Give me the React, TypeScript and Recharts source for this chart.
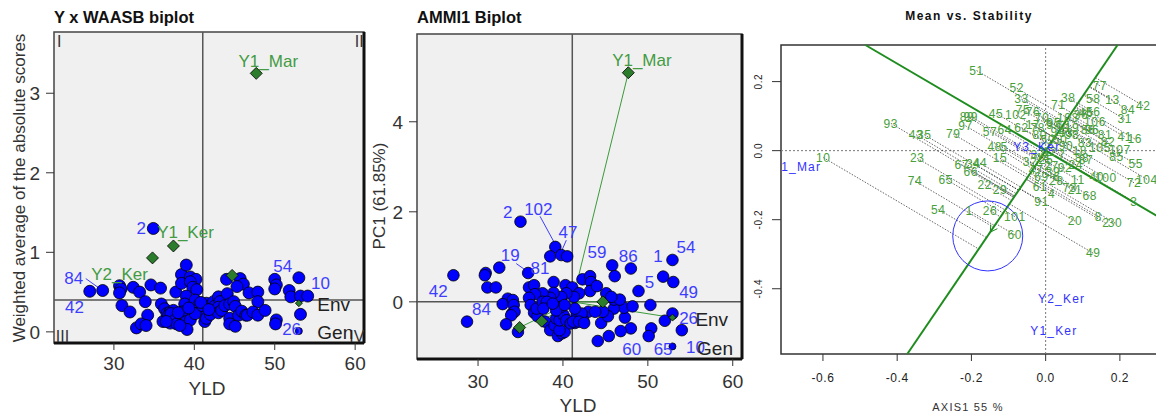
import {
  ScatterChart,
  Scatter,
  XAxis,
  YAxis,
  CartesianGrid,
  ReferenceLine,
  ReferenceArea,
  ReferenceDot,
} from "recharts";

type Pt = [number, number];
type Lbl = [string, number, number];

const FONT = "'Liberation Sans', Arial, sans-serif";
const GEN_TEXT = "#3d3dff";
const ENV_TEXT = "#439b43";
const ENV_FILL = "#2b7d2b";
const STAB_TEXT = "#47a03a";

// ---- Y x WAASB biplot ----
const waasbDomainX: Pt = [22.55, 61.1];
const waasbDomainY: Pt = [-0.14, 3.77];
const waasbMeanYld = 41.05;
const waasbMeanScore = 0.4;
const waasbGen: Pt[] = [
  [34.9, 1.3], [27.0, 0.51], [28.6, 0.52], [30.7, 0.58], [30.9, 0.54], [30.7, 0.49],
  [31.0, 0.33], [32.0, 0.25], [32.4, 0.56], [33.2, 0.5], [33.9, 0.38], [34.2, 0.21],
  [32.8, 0.05], [33.4, 0.1], [34.0, 0.08], [34.6, 0.59], [35.8, 0.55], [35.9, 0.35],
  [36.1, 0.13], [37.7, 0.5], [38.4, 0.72], [39.0, 0.84], [38.4, 0.61], [39.5, 0.69],
  [40.2, 0.66], [39.5, 0.63], [39.8, 0.56], [40.3, 0.53], [39.0, 0.45], [38.8, 0.35],
  [38.5, 0.25], [36.3, 0.29], [36.6, 0.23], [37.0, 0.25], [37.4, 0.27], [36.8, 0.21],
  [37.1, 0.23], [37.0, 0.11], [37.6, 0.15], [37.8, 0.1], [39.0, 0.13], [39.5, 0.15],
  [39.1, 0.03], [40.1, 0.4], [40.5, 0.33], [40.3, 0.27], [40.7, 0.25], [40.1, 0.23],
  [41.3, 0.13], [41.5, 0.17], [41.0, 0.33], [41.5, 0.36], [42.0, 0.33], [42.4, 0.38],
  [42.5, 0.32], [42.0, 0.22], [43.0, 0.44], [43.2, 0.38], [43.0, 0.31], [43.0, 0.24],
  [43.4, 0.27], [44.0, 0.66], [44.1, 0.48], [43.8, 0.33], [44.4, 0.35], [44.9, 0.38],
  [45.1, 0.32], [44.4, 0.17], [44.4, 0.1], [45.1, 0.07], [45.7, 0.67], [46.1, 0.6],
  [45.3, 0.57], [45.5, 0.21], [45.9, 0.26], [46.4, 0.21], [46.8, 0.49], [47.9, 0.5],
  [47.9, 0.38], [46.6, 0.21], [47.3, 0.25], [47.9, 0.21], [48.8, 0.27], [50.0, 0.66],
  [50.2, 0.59], [50.0, 0.54], [50.2, 0.15], [50.1, 0.1], [51.8, 0.52], [52.0, 0.44],
  [53.0, 0.68], [53.2, 0.45], [54.1, 0.45], [53.2, 0.22], [38.0, 0.24], [39.3, 0.3],
  [40.8, 0.37], [41.8, 0.28], [36.5, 0.13], [38.2, 0.08],
];
const waasbGenSmall: Pt[] = [[53.0, 0.01]];
const waasbEnv: Pt[] = [[47.7, 3.25], [37.4, 1.08], [34.8, 0.93], [44.7, 0.71]];
const waasbEnvSmall: Pt[] = [[53.0, 0.36]];
const waasbGenLabels: Lbl[] = [
  ["2", 33.4, 1.3], ["84", 25.0, 0.68], ["42", 25.1, 0.31],
  ["54", 51.0, 0.83], ["10", 55.7, 0.61], ["26", 52.1, 0.03],
];
const waasbEnvLabels: Lbl[] = [["Y1_Mar", 49.2, 3.4], ["Y1_Ker", 38.9, 1.25], ["Y2_Ker", 30.7, 0.73]];
const waasbQuadrants: Lbl[] = [["I", 23.2, 3.65], ["II", 60.5, 3.65], ["III", 23.6, -0.06], ["IV", 60.2, -0.06]];
const waasbLegend: Lbl[] = [["Env", 55.3, 0.35], ["Gen", 55.3, 0.0]];
const waasbLeader: Pt[] = [[26.5, 0.67], [28.3, 0.54]];

// ---- AMMI1 biplot ----
const ammiDomainX: Pt = [22.81, 61.09];
const ammiDomainY: Pt = [-1.27, 5.95];
const ammiCenter: Pt = [41.1, 0];
const ammiGen: Pt[] = [
  [35.0, 1.78], [39.1, 1.22], [38.5, 1.01], [39.8, 1.04], [40.5, 1.01], [35.9, 0.64],
  [27.1, 0.59], [30.9, 0.64], [30.8, 0.59], [32.5, 0.76], [31.1, 0.32], [32.1, 0.32],
  [36.0, 0.32], [36.6, 0.37], [38.9, 0.44], [40.3, 0.37], [41.1, 0.32], [42.3, 0.5],
  [43.2, 0.57], [43.3, 0.44], [43.2, 0.24], [44.0, 0.35], [45.8, 0.81], [46.1, 0.57],
  [48.0, 0.74], [51.8, 0.56], [52.9, 0.93], [53.0, 0.44], [48.9, 0.24], [50.3, -0.07],
  [52.9, -0.26], [52.0, -0.42], [54.0, -0.63], [50.4, -0.59], [50.1, -0.76], [48.0, -0.59],
  [46.8, -0.65], [45.4, -0.76], [44.1, -0.87], [47.3, -0.35], [47.2, -0.13], [48.2, -0.1],
  [46.0, -0.15], [44.5, -0.47], [45.3, -0.32], [44.7, -0.22], [46.0, 0.05], [46.7, 0.05],
  [45.1, 0.19], [45.7, 0.11], [43.0, -0.22], [43.8, -0.22], [42.4, -0.41], [41.6, -0.3],
  [41.4, -0.47], [42.2, -0.26], [41.4, -0.15], [41.9, 0.19], [41.3, 0.11], [40.4, 0.19],
  [39.8, 0.11], [38.9, 0.2], [38.5, 0.09], [37.6, 0.19], [36.7, 0.17], [36.0, 0.09],
  [36.2, -0.07], [36.6, -0.24], [37.0, -0.32], [36.9, -0.15], [37.6, 0.0], [38.1, 0.0],
  [37.7, -0.15], [37.9, -0.44], [38.5, -0.63], [39.0, -0.52], [39.4, -0.76], [39.9, -0.7],
  [40.2, -0.67], [39.6, -0.63], [39.2, -0.37], [39.6, -0.41], [40.1, -0.3], [40.4, -0.41],
  [40.9, -0.48], [41.2, -0.44], [41.9, -0.44], [42.5, -0.47], [39.8, -0.11], [39.2, -0.19],
  [38.8, -0.04], [40.2, -0.07], [33.5, 0.07], [32.9, -0.05], [34.1, 0.04], [34.2, -0.07],
  [34.0, -0.26], [34.3, -0.22], [33.9, -0.3], [33.3, -0.5], [28.7, -0.44], [34.7, -0.67],
];
const ammiGenSmall: Pt[] = [[52.9, -0.99]];
const ammiEnv: Pt[] = [[47.7, 5.09], [44.7, 0.0], [37.5, -0.43], [34.9, -0.57]];
const ammiEnvSmall: Pt[] = [[52.9, -0.35]];
const ammiGenLabels: Lbl[] = [
  ["2", 33.5, 2.0], ["102", 37.1, 2.07], ["47", 40.6, 1.54], ["19", 33.8, 1.04],
  ["81", 37.3, 0.74], ["42", 25.3, 0.24], ["84", 30.4, -0.17], ["59", 44.0, 1.1],
  ["86", 47.7, 1.01], ["1", 51.2, 1.01], ["54", 54.5, 1.21], ["5", 50.2, 0.44],
  ["49", 54.8, 0.22], ["26", 54.8, -0.37], ["60", 48.1, -1.04], ["65", 51.8, -1.04],
  ["10", 55.6, -1.0],
];
const ammiEnvLabels: Lbl[] = [["Y1_Mar", 49.3, 5.37]];
const ammiLegend: Lbl[] = [["Env", 55.6, -0.39], ["Gen", 55.8, -1.04]];
const ammiLeaders: [Pt, Pt][] = [
  [[37.3, 1.9], [39.0, 1.31]],
  [[40.4, 1.37], [39.8, 1.11]],
  [[34.5, 0.85], [35.7, 0.69]],
];

// ---- Mean vs. Stability ----
const stabDomainX: Pt = [-0.713, 0.335];
const stabDomainY: Pt = [-0.589, 0.306];
const stabTicksX = [-0.6, -0.4, -0.2, 0, 0.2];
const stabTicksY = [-0.4, -0.2, 0, 0.2];
const stabSlopeAec = 1.58;
const stabSlopeOrd = -0.63;
const stabCircle: Pt = [-0.156, -0.247];
const stabArrowTip: Pt = [-0.149, -0.236];
const stabGenLabels: Lbl[] = [
  ["51", -0.186, 0.232], ["52", -0.078, 0.181], ["33", -0.065, 0.149], ["75", -0.061, 0.118],
  ["76", -0.034, 0.112], ["71", 0.034, 0.132], ["38", 0.061, 0.152], ["77", 0.146, 0.188],
  ["58", 0.128, 0.149], ["13", 0.18, 0.147], ["42", 0.263, 0.13], ["84", 0.222, 0.118],
  ["31", 0.213, 0.091], ["41", 0.213, 0.04], ["16", 0.24, 0.034], ["107", 0.2, 0.002],
  ["85", 0.191, -0.017], ["55", 0.243, -0.039], ["104", 0.273, -0.083], ["72", 0.238, -0.093],
  ["3", 0.238, -0.148], ["40", 0.138, -0.077], ["100", 0.162, -0.079], ["68", 0.119, -0.131],
  ["8", 0.142, -0.191], ["2", 0.162, -0.21], ["30", 0.187, -0.21], ["20", 0.079, -0.204],
  ["49", 0.128, -0.297], ["91", -0.011, -0.148], ["4", 0.016, -0.126], ["61", -0.015, -0.106],
  ["28", 0.029, -0.087], ["69", -0.011, -0.075], ["27", 0.016, -0.044], ["92", 0.052, -0.051],
  ["24", 0.081, -0.041], ["73", 0.065, -0.109], ["21", 0.079, -0.114], ["101", -0.083, -0.191],
  ["60", -0.083, -0.244], ["26", -0.15, -0.174], ["1", -0.206, -0.174], ["54", -0.289, -0.17],
  ["22", -0.164, -0.099], ["29", -0.123, -0.112], ["65", -0.269, -0.083], ["74", -0.352, -0.088],
  ["23", -0.346, -0.022], ["10", -0.599, -0.02], ["93", -0.417, 0.079], ["43", -0.349, 0.046],
  ["35", -0.327, 0.046], ["79", -0.249, 0.048], ["97", -0.216, 0.072], ["99", -0.202, 0.099],
  ["89", -0.212, 0.099], ["45", -0.134, 0.108], ["102", -0.08, 0.103], ["57", -0.15, 0.055],
  ["64", -0.11, 0.06], ["62", -0.065, 0.067], ["17", -0.034, 0.074], ["78", -0.021, 0.066],
  ["48", -0.137, 0.012], ["5", -0.112, 0.012], ["15", -0.123, -0.022], ["34", -0.195, -0.037],
  ["44", -0.177, -0.036], ["66", -0.202, -0.061], ["67", -0.226, -0.041], ["70", -0.01, 0.095],
  ["9", 0.011, 0.074], ["95", 0.022, 0.08], ["94", 0.033, 0.054], ["63", 0.046, 0.074],
  ["19", 0.071, 0.066], ["36", 0.095, 0.103], ["46", 0.109, 0.109], ["56", 0.128, 0.112],
  ["106", 0.133, 0.083], ["86", 0.114, 0.06], ["96", 0.125, 0.06], ["81", 0.16, 0.046],
  ["82", 0.168, 0.025], ["83", 0.106, 0.022], ["105", 0.146, 0.008], ["18", 0.092, -0.001],
  ["87", 0.109, -0.027], ["88", 0.098, -0.021], ["12", 0.011, -0.004], ["14", -0.007, -0.021],
  ["25", 0.001, -0.027], ["32", -0.042, -0.033], ["37", -0.021, -0.013], ["47", -0.026, -0.056],
  ["50", 0.039, 0.031], ["53", 0.055, 0.051], ["59", 0.006, 0.031], ["80", -0.016, 0.046],
  ["90", 0.055, 0.014], ["98", 0.071, 0.046], ["103", 0.06, 0.095], ["6", 0.03, -0.076],
  ["7", 0.044, -0.012], ["11", 0.087, -0.085], ["39", 0.02, -0.06],
];
const stabEnvLabels: Lbl[] = [
  ["Y3_Ker", -0.024, 0.012], ["Y1_Mar", -0.671, -0.046],
  ["Y2_Ker", 0.043, -0.428], ["Y1_Ker", 0.022, -0.522],
];

const toPts = (a: Pt[]) => a.map(([x, y]) => ({ x, y }));
const toLbls = (a: Lbl[]) => a.map(([label, x, y]) => ({ label, x, y }));

const dot = (r: number) => (p: any) => (
  <circle cx={p.cx} cy={p.cy} r={r} fill="#0000ff" stroke="#000" strokeWidth={0.8} />
);
const diamond = (s: number) => (p: any) => (
  <polygon
    points={`${p.cx},${p.cy - s} ${p.cx + s},${p.cy} ${p.cx},${p.cy + s} ${p.cx - s},${p.cy}`}
    fill={ENV_FILL}
    stroke="#000"
    strokeWidth={0.8}
  />
);
const txt =
  (fill: string, size: number, anchor = "middle", spacing = 0) =>
  (p: any) => (
    <text
      x={p.cx}
      y={p.cy}
      dy="0.35em"
      textAnchor={anchor}
      fill={fill}
      fontSize={size}
      letterSpacing={spacing}
      fontFamily={FONT}
    >
      {p.payload.label}
    </text>
  );

const tickStyle = { fontSize: 19, fill: "#333", fontFamily: FONT };

function WaasbPanel() {
  return (
    <ScatterChart width={380} height={416} margin={{ top: 32, right: 16, bottom: 23, left: 0 }}>
      <CartesianGrid horizontal={false} vertical={false} fill="#f0f0f0" fillOpacity={1} />
      <XAxis
        type="number"
        dataKey="x"
        domain={waasbDomainX}
        ticks={[30, 40, 50, 60]}
        allowDataOverflow
        axisLine={false}
        height={50}
        tickSize={7}
        tickMargin={7}
        tickLine={{ stroke: "#333" }}
        tick={tickStyle}
        label={() => (
          <text x={207} y={388} dy="0.35em" textAnchor="middle" fontSize={19} fill="#333" fontFamily={FONT}>
            YLD
          </text>
        )}
      />
      <YAxis
        type="number"
        dataKey="y"
        domain={waasbDomainY}
        ticks={[0, 1, 2, 3]}
        allowDataOverflow
        axisLine={false}
        width={54}
        tickSize={8}
        tickMargin={6}
        tickLine={{ stroke: "#333" }}
        tick={tickStyle}
        label={() => (
          <text
            x={19}
            y={188}
            dy="0.35em"
            transform="rotate(-90 19 188)"
            textAnchor="middle"
            fontSize={17}
            fill="#333"
            fontFamily={FONT}
          >
            Weighted average of the absolute scores
          </text>
        )}
      />
      <ReferenceLine x={waasbMeanYld} stroke="#555" strokeWidth={1.5} />
      <ReferenceLine y={waasbMeanScore} stroke="#555" strokeWidth={1.5} />
      <ReferenceLine
        segment={waasbLeader.map(([x, y]) => ({ x, y }))}
        stroke={GEN_TEXT}
        strokeWidth={1}
      />
      <Scatter data={toPts(waasbGen)} shape={dot(6)} isAnimationActive={false} />
      <Scatter data={toPts(waasbGenSmall)} shape={dot(3.5)} isAnimationActive={false} />
      <Scatter data={toPts(waasbEnv)} shape={diamond(6)} isAnimationActive={false} />
      <Scatter data={toPts(waasbEnvSmall)} shape={diamond(3.5)} isAnimationActive={false} />
      <Scatter data={toLbls(waasbGenLabels)} shape={txt(GEN_TEXT, 17)} isAnimationActive={false} />
      <Scatter data={toLbls(waasbEnvLabels)} shape={txt(ENV_TEXT, 17)} isAnimationActive={false} />
      <Scatter data={toLbls(waasbQuadrants)} shape={txt("#333", 16)} isAnimationActive={false} />
      <Scatter data={toLbls(waasbLegend)} shape={txt("#222", 19, "start")} isAnimationActive={false} />
      <ReferenceArea
        x1={waasbDomainX[0]}
        x2={waasbDomainX[1]}
        y1={waasbDomainY[0]}
        y2={waasbDomainY[1]}
        fill="none"
        stroke="#444"
        strokeWidth={1.5}
      />
      <ReferenceLine x={waasbDomainX[1]} stroke="#111" strokeWidth={3} />
      <ReferenceLine y={waasbDomainY[0]} stroke="#111" strokeWidth={3} />
    </ScatterChart>
  );
}

function AmmiPanel() {
  return (
    <ScatterChart width={395} height={416} margin={{ top: 34, right: 18, bottom: 17, left: 0 }}>
      <CartesianGrid horizontal={false} vertical={false} fill="#f0f0f0" fillOpacity={1} />
      <XAxis
        type="number"
        dataKey="x"
        domain={ammiDomainX}
        ticks={[30, 40, 50, 60]}
        allowDataOverflow
        axisLine={false}
        height={40}
        tickSize={7}
        tickMargin={9}
        tickLine={{ stroke: "#333" }}
        tick={tickStyle}
        label={() => (
          <text x={213} y={405} dy="0.35em" textAnchor="middle" fontSize={19} fill="#333" fontFamily={FONT}>
            YLD
          </text>
        )}
      />
      <YAxis
        type="number"
        dataKey="y"
        domain={ammiDomainY}
        ticks={[0, 2, 4]}
        allowDataOverflow
        axisLine={false}
        width={52}
        tickSize={8}
        tickMargin={6}
        tickLine={{ stroke: "#333" }}
        tick={tickStyle}
        label={() => (
          <text
            x={14}
            y={196}
            dy="0.35em"
            transform="rotate(-90 14 196)"
            textAnchor="middle"
            fontSize={17}
            fill="#333"
            fontFamily={FONT}
          >
            PC1 (61.85%)
          </text>
        )}
      />
      <ReferenceLine x={ammiCenter[0]} stroke="#555" strokeWidth={1.5} />
      <ReferenceLine y={ammiCenter[1]} stroke="#555" strokeWidth={1.5} />
      {[...ammiEnv, ...ammiEnvSmall].map(([x, y], i) => (
        <ReferenceLine
          key={`env-${i}`}
          segment={[{ x: ammiCenter[0], y: ammiCenter[1] }, { x, y }]}
          stroke="#3a9a3a"
          strokeWidth={1}
        />
      ))}
      {ammiLeaders.map(([a, b], i) => (
        <ReferenceLine
          key={`lead-${i}`}
          segment={[{ x: a[0], y: a[1] }, { x: b[0], y: b[1] }]}
          stroke={GEN_TEXT}
          strokeWidth={1}
        />
      ))}
      <Scatter data={toPts(ammiGen)} shape={dot(5.8)} isAnimationActive={false} />
      <Scatter data={toPts(ammiGenSmall)} shape={dot(3.5)} isAnimationActive={false} />
      <Scatter data={toPts(ammiEnv)} shape={diamond(6)} isAnimationActive={false} />
      <Scatter data={toPts(ammiEnvSmall)} shape={diamond(3.5)} isAnimationActive={false} />
      <Scatter data={toLbls(ammiGenLabels)} shape={txt(GEN_TEXT, 17)} isAnimationActive={false} />
      <Scatter data={toLbls(ammiEnvLabels)} shape={txt(ENV_TEXT, 17)} isAnimationActive={false} />
      <Scatter data={toLbls(ammiLegend)} shape={txt("#222", 19, "start")} isAnimationActive={false} />
      <ReferenceArea
        x1={ammiDomainX[0]}
        x2={ammiDomainX[1]}
        y1={ammiDomainY[0]}
        y2={ammiDomainY[1]}
        fill="none"
        stroke="#444"
        strokeWidth={1.5}
      />
      <ReferenceLine x={ammiDomainX[1]} stroke="#111" strokeWidth={3} />
      <ReferenceLine y={ammiDomainY[0]} stroke="#111" strokeWidth={3} />
    </ScatterChart>
  );
}

// segment of a line through the origin, cut at the plot box
function lineThroughOrigin(slope: number) {
  const [x0, x1] = stabDomainX;
  const [y0, y1] = stabDomainY;
  const clampX = (x: number) => {
    const y = slope * x;
    if (y > y1) return { x: y1 / slope, y: y1 };
    if (y < y0) return { x: y0 / slope, y: y0 };
    return { x, y };
  };
  return [clampX(x0), clampX(x1)];
}

function projectOnAec(x: number, y: number) {
  const t = (x + stabSlopeAec * y) / (1 + stabSlopeAec * stabSlopeAec);
  return { x: t, y: stabSlopeAec * t };
}

function StabXTick(p: any) {
  return (
    <text x={p.x} y={p.y} dy="0.71em" textAnchor="middle" fontSize={12} letterSpacing={0.6} fill="#222" fontFamily={FONT}>
      {Number(p.payload.value).toFixed(1)}
    </text>
  );
}

function StabYTick(p: any) {
  return (
    <text
      x={17}
      y={p.y}
      transform={`rotate(-90 17 ${p.y})`}
      textAnchor="middle"
      fontSize={10}
      letterSpacing={0.6}
      fill="#222"
      fontFamily={FONT}
    >
      {Number(p.payload.value).toFixed(1)}
    </text>
  );
}

function StabilityPanel() {
  const aec = lineThroughOrigin(stabSlopeAec);
  const ord = lineThroughOrigin(stabSlopeOrd);
  const [tx, ty] = stabArrowTip;
  return (
    <ScatterChart width={425} height={416} margin={{ top: 45, right: 0, bottom: 17, left: 0 }}>
      <XAxis
        type="number"
        dataKey="x"
        domain={stabDomainX}
        ticks={stabTicksX}
        allowDataOverflow
        axisLine={false}
        height={45}
        tickSize={7}
        tickMargin={12}
        tickLine={{ stroke: "#333" }}
        tick={<StabXTick />}
        label={() => (
          <text x={223} y={407} dy="0.35em" textAnchor="middle" fontSize={11} letterSpacing={1.2} fill="#333" fontFamily={FONT}>
            AXIS1 55 %
          </text>
        )}
      />
      <YAxis
        type="number"
        dataKey="y"
        domain={stabDomainY}
        ticks={stabTicksY}
        allowDataOverflow
        axisLine={false}
        width={36}
        tickSize={9}
        tickLine={{ stroke: "#333" }}
        tick={<StabYTick />}
      />
      <ReferenceLine x={0} stroke="#777" strokeDasharray="2 2" />
      <ReferenceLine y={0} stroke="#777" strokeDasharray="2 2" />
      {stabGenLabels.map(([label, x, y]) => (
        <ReferenceLine
          key={`proj-${label}-${x}`}
          segment={[{ x, y }, projectOnAec(x, y)]}
          stroke="#222"
          strokeWidth={0.7}
          strokeDasharray="1.5 1.5"
          ifOverflow="visible"
        />
      ))}
      <ReferenceLine segment={ord} stroke="#1e8c1e" strokeWidth={2} ifOverflow="visible" />
      <ReferenceLine segment={aec} stroke="#1e8c1e" strokeWidth={2} ifOverflow="visible" />
      <ReferenceLine
        segment={[{ x: tx, y: ty }, { x: tx + 0.001, y: ty + 0.022 }]}
        stroke="#1e8c1e"
        strokeWidth={1}
      />
      <ReferenceLine
        segment={[{ x: tx, y: ty }, { x: tx + 0.019, y: ty + 0.01 }]}
        stroke="#1e8c1e"
        strokeWidth={1}
      />
      <ReferenceDot x={stabCircle[0]} y={stabCircle[1]} r={35} fill="none" stroke="#3333ff" strokeWidth={1} />
      <Scatter data={toLbls(stabGenLabels)} shape={txt(STAB_TEXT, 12, "middle", 0.6)} isAnimationActive={false} />
      <Scatter data={toLbls(stabEnvLabels)} shape={txt("#3333ff", 12, "middle", 1.2)} isAnimationActive={false} />
      <ReferenceArea
        x1={stabDomainX[0]}
        x2={stabDomainX[1]}
        y1={stabDomainY[0]}
        y2={stabDomainY[1]}
        fill="none"
        stroke="#333"
        strokeWidth={1.5}
      />
    </ScatterChart>
  );
}

export default function App() {
  return (
    <div
      style={{
        position: "fixed",
        left: 0,
        top: 0,
        width: 1156,
        height: 416,
        overflow: "hidden",
        background: "#fff",
        fontFamily: FONT,
      }}
    >
      <div style={{ position: "absolute", left: 0, top: 0 }}>
        <WaasbPanel />
      </div>
      <div style={{ position: "absolute", left: 365, top: 0 }}>
        <AmmiPanel />
      </div>
      <div style={{ position: "absolute", left: 745, top: 0 }}>
        <StabilityPanel />
      </div>
      <div style={{ position: "absolute", left: 54, top: 6, fontSize: 16.5, fontWeight: "bold", color: "#111", lineHeight: "22px" }}>
        Y x WAASB biplot
      </div>
      <div style={{ position: "absolute", left: 417, top: 6, fontSize: 16.5, fontWeight: "bold", color: "#111", lineHeight: "22px" }}>
        AMMI1 Biplot
      </div>
      <div
        style={{
          position: "absolute",
          left: 869,
          width: 200,
          top: 7,
          textAlign: "center",
          fontSize: 12,
          fontWeight: "bold",
          letterSpacing: 1.5,
          color: "#111",
          lineHeight: "18px",
        }}
      >
        Mean vs. Stability
      </div>
    </div>
  );
}
